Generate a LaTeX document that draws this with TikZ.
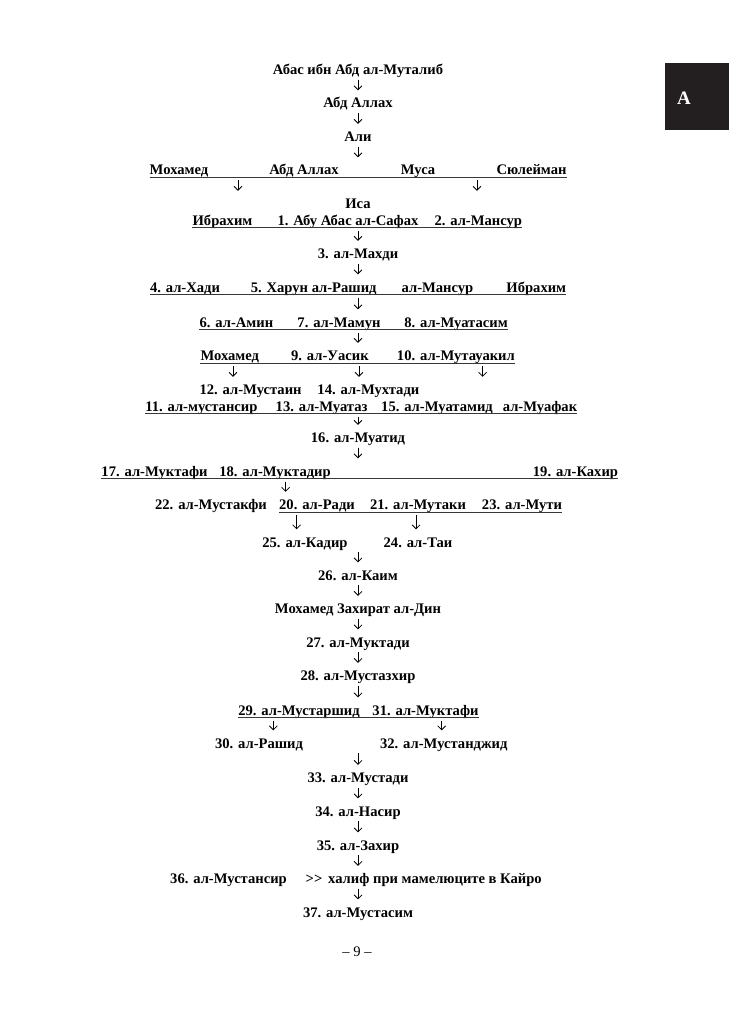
\documentclass[tikz,border=0pt]{standalone}
\usepackage{fontspec}
\setmainfont{Liberation Serif}
\usetikzlibrary{arrows.meta}
\definecolor{tabblack}{RGB}{35,31,32}
\definecolor{ulgray}{RGB}{55,55,55}
\tikzset{
  caliph/.style={font=\fontsize{14.6}{17}\selectfont\bfseries, inner xsep=0pt,
    inner ysep=2pt, text height=10pt, text depth=3pt, anchor=base},
  uline/.style={line width=1pt, ulgray},
  darr/.style={-{Straight Barb[length=4pt,width=8pt]}, line width=0.75pt,
    shorten >=5.5pt},
  fromline/.style={darr, shorten <=3pt}
}

\begin{document}
\begin{tikzpicture}[x=1pt,y=-1pt]
  \useasboundingbox (0,0) rectangle (729,1024);

  % Letter tab
  \fill[tabblack] (665,63) rectangle (729,130);
  \node[font=\fontsize{19}{22}\selectfont\bfseries,text=white] (tab) at (684,98) {А};

  % Abbas to Ali
  \node[caliph] (abbas) at (358,74.5) {Абас ибн Абд ал-Муталиб};
  \node[caliph] (abdallah) at (358,108) {Абд Аллах};
  \node[caliph] (ali) at (358,141.5) {Али};
  \draw[darr] (abbas.south) -- (abdallah.north);
  \draw[darr] (abdallah.south) -- (ali.north);

  % Sons of Ali
  \node[caliph] (muhammad) at (179,175) {Мохамед};
  \node[caliph] (abdallahb) at (304,175) {Абд Аллах};
  \node[caliph] (musa) at (418,175) {Муса};
  \node[caliph] (suleiman) at (531.5,175) {Сюлейман};
  \draw[uline] ([yshift=-2.5pt]muhammad.base west) -- ([yshift=-2.5pt]suleiman.base east);
  \draw[darr] (ali.south) -- (ali.south |- musa.north);
  \coordinate (sonsa) at (238,177.5);
  \coordinate (sonsb) at (477,177.5);

  \node[caliph] (isa) at (358,208.5) {Иса};
  \draw[fromline] (sonsa) -- (sonsa |- isa.north);
  \draw[fromline] (sonsb) -- (sonsb |- isa.north);

  % 1 and 2
  \node[caliph] (ibrahim) at (222.5,225.5) {Ибрахим};
  \node[caliph] (c1) at (348,225.5) {1. Абу Абас ал-Сафах};
  \node[caliph] (c2) at (478.3,225.5) {2. ал-Мансур};
  \draw[uline] ([yshift=-2.5pt]ibrahim.base west) -- ([yshift=-2.5pt]c2.base east);
  \coordinate (rowa) at (358,228);

  \node[caliph] (c3) at (358,258.5) {3. ал-Махди};
  \draw[fromline] (rowa) -- (c3.north);

  % 4 and 5
  \node[caliph] (c4) at (185,292) {4. ал-Хади};
  \node[caliph] (c5) at (313.7,292) {5. Харун ал-Рашид};
  \node[caliph] (mansur) at (437.5,292) {ал-Мансур};
  \node[caliph] (ibrahimb) at (536.3,292) {Ибрахим};
  \draw[uline] ([yshift=-2.5pt]c4.base west) -- ([yshift=-2.5pt]ibrahimb.base east);
  \draw[darr] (c3.south) -- (c3.south |- c5.north);
  \coordinate (rowb) at (358,294.5);

  % 6 to 8
  \node[caliph] (c6) at (236.4,327) {6. ал-Амин};
  \node[caliph] (c7) at (339,327) {7. ал-Мамун};
  \node[caliph] (c8) at (456,327) {8. ал-Муатасим};
  \draw[uline] ([yshift=-2.5pt]c6.base west) -- ([yshift=-2.5pt]c8.base east);
  \draw[fromline] (rowb) -- (rowb |- c7.north);
  \coordinate (rowc) at (358,329.5);

  % 9 and 10
  \node[caliph] (muhammadb) at (229.8,360.5) {Мохамед};
  \node[caliph] (c9) at (329.9,360.5) {9. ал-Уасик};
  \node[caliph] (c10) at (455.9,360.5) {10. ал-Мутауакил};
  \draw[uline] ([yshift=-2.5pt]muhammadb.base west) -- ([yshift=-2.5pt]c10.base east);
  \draw[fromline] (rowc) -- (rowc |- c9.north);
  \coordinate (sonsc) at (233,363);
  \coordinate (sonsd) at (359,363);
  \coordinate (sonse) at (482.6,363);

  % 11 to 15
  \node[caliph] (c12) at (250.6,394.5) {12. ал-Мустаин};
  \node[caliph] (c14) at (368.4,394.5) {14. ал-Мухтади};
  \draw[fromline] (sonsc) -- (sonsc |- c12.north);
  \draw[fromline] (sonsd) -- (sonsd |- c14.north);
  \draw[fromline] (sonse) -- (sonse |- c14.north);
  \node[caliph] (c11) at (201.4,411) {11. ал-мустансир};
  \node[caliph] (c13) at (321.6,411) {13. ал-Муатаз};
  \node[caliph] (c15) at (437,411) {15. ал-Муатамид};
  \node[caliph] (muafak) at (540,411) {ал-Муафак};
  \draw[uline] ([yshift=-2.5pt]c11.base west) -- ([yshift=-2.5pt]muafak.base east);
  \coordinate (rowd) at (358,413.5);

  \node[caliph] (c16) at (358,442.5) {16. ал-Муатид};
  \draw[fromline] (rowd) -- (c16.north);

  % 17 to 19
  \node[caliph] (c17) at (154.5,476) {17. ал-Муктафи};
  \node[caliph] (c18) at (275,476) {18. ал-Муктадир};
  \node[caliph] (c19) at (575.5,476) {19. ал-Кахир};
  \draw[uline] ([yshift=-2.5pt]c17.base west) -- ([yshift=-2.5pt]c19.base east);
  \draw[darr] (c16.south) -- (c16.south |- c18.north);
  \coordinate (rowe) at (285.6,478.5);

  % 20 to 23
  \node[caliph] (c22) at (211,509.5) {22. ал-Мустакфи};
  \node[caliph] (c20) at (317,509.5) {20. ал-Ради};
  \node[caliph] (c21) at (418,509.5) {21. ал-Мутаки};
  \node[caliph] (c23) at (522,509.5) {23. ал-Мути};
  \draw[uline] ([yshift=-2.5pt]c20.base west) -- ([yshift=-2.5pt]c23.base east);
  \draw[fromline] (rowe) -- (rowe |- c20.north);
  \coordinate (sonsf) at (296.6,512);
  \coordinate (sonsg) at (416,512);

  \node[caliph] (c25) at (305,547) {25. ал-Кадир};
  \node[caliph] (c24) at (418,547) {24. ал-Таи};
  \draw[fromline] (sonsf) -- (sonsf |- c25.north);
  \draw[fromline] (sonsg) -- (sonsg |- c24.north);

  % 26 to 28
  \node[caliph] (c26) at (358,580) {26. ал-Каим};
  \node[caliph] (zahirat) at (358,613.5) {Мохамед Захират ал-Дин};
  \node[caliph] (c27) at (358,647) {27. ал-Муктади};
  \node[caliph] (c28) at (358,680.5) {28. ал-Мустазхир};
  \draw[darr] (c26.north |- c25.south) -- (c26.north);
  \draw[darr] (c26.south) -- (zahirat.north);
  \draw[darr] (zahirat.south) -- (c27.north);
  \draw[darr] (c27.south) -- (c28.north);

  % 29 to 32
  \node[caliph] (c29) at (299,715) {29. ал-Мустаршид};
  \node[caliph] (c31) at (425.5,715) {31. ал-Муктафи};
  \draw[uline] ([yshift=-2.5pt]c29.base west) -- ([yshift=-2.5pt]c31.base east);
  \draw[darr] (c28.south) -- (c28.south |- c29.north);
  \coordinate (sonsh) at (273.3,717.5);
  \coordinate (sonsi) at (441.7,717.5);
  \node[caliph] (c30) at (259,748) {30. ал-Рашид};
  \node[caliph] (c32) at (443.8,748) {32. ал-Мустанджид};
  \draw[fromline] (sonsh) -- (sonsh |- c30.north);
  \draw[fromline] (sonsi) -- (sonsi |- c32.north);

  % 33 to 37
  \node[caliph] (c33) at (358,782.5) {33. ал-Мустади};
  \node[caliph] (c34) at (358,816) {34. ал-Насир};
  \node[caliph] (c35) at (358,850) {35. ал-Захир};
  \draw[darr] (c33.north |- c30.south) -- (c33.north);
  \draw[darr] (c33.south) -- (c34.north);
  \draw[darr] (c34.south) -- (c35.north);
  \node[caliph] (c36) at (228.5,883.5) {36. ал-Мустансир};
  \node[caliph] (gtgt) at (314,883.5) {>\kern0pt>};
  \node[caliph] (cairo) at (435,883.5) {халиф при мамелюците в Кайро};
  \draw[darr] (c35.south) -- (c35.south |- cairo.north);
  \node[caliph] (c37) at (358,917) {37. ал-Мустасим};
  \draw[darr] (c37.north |- c36.south) -- (c37.north);

  % Page number
  \node[font=\fontsize{14.6}{17}\selectfont,anchor=base] (page) at (357,956) {– 9 –};
\end{tikzpicture}
\end{document}
